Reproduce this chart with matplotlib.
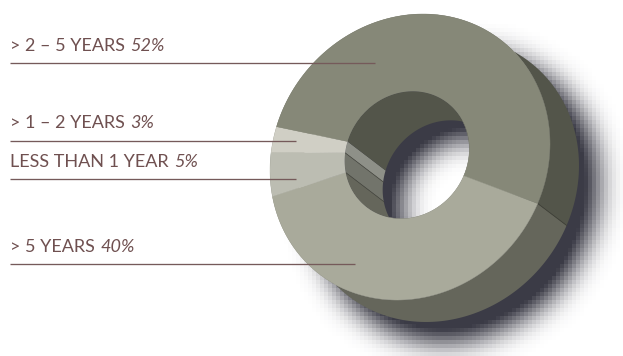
import numpy as np
import matplotlib
matplotlib.use('Agg')
import matplotlib.pyplot as plt
from matplotlib.patches import Polygon
from matplotlib.transforms import IdentityTransform, blended_transform_factory

# clockwise from the seam at lower right
categories = ['> 5 YEARS', 'LESS THAN 1 YEAR', '> 1 \u2013 2 YEARS', '> 2 \u2013 5 YEARS']
shares = [40, 5, 3, 52]
face_colors = ['#a9aa9b', '#bcbdb2', '#d0cfc5', '#868878']
outer_wall_colors = ['#65665b', '#65665b', '#65665b', '#53554a']
inner_wall_colors = ['#65665b', '#72746b', '#8e9088', '#53554a']

label_baselines = [252, 167, 128, 51]
leader_y = [264, 179, 141, 63]
leader_end = [355, 296, 296, 375]

text_color = '#6f5050'
line_color = '#755a5a'
shadow_color = (0.235, 0.235, 0.275)

START_ANGLE = 20.0
outer_center = np.array([410.0, 157.0])
inner_center = np.array([407.0, 155.0])
outer_cov = np.array([[140.0 ** 2, -1859.0], [-1859.0, 143.0 ** 2]])
inner_cov = outer_cov * (63.0 / 141.5) ** 2
wall_offset = np.array([29.0, 22.0])
hole_offset = np.array([38.0, 29.0])
shadow_offset = np.array([47.0, 40.0])
shadow_hole_offset = np.array([54.0, 46.0])


def arc(center, cov, a0, a1, n=120):
    # points on a tilted ellipse at polar angles a0..a1 (degrees, y down)
    t = np.radians(np.linspace(a0, a1, n))
    u = np.column_stack([np.cos(t), np.sin(t)])
    inv = np.linalg.inv(cov)
    r = 1.0 / np.sqrt(np.sum(u @ inv * u, axis=1))
    return center + u * r[:, None]


def inside(xx, yy, center, cov):
    inv = np.linalg.inv(cov)
    dx, dy = xx - center[0], yy - center[1]
    return inv[0, 0] * dx * dx + 2 * inv[0, 1] * dx * dy + inv[1, 1] * dy * dy <= 1


def box_blur(a, size):
    kernel = np.ones(size) / size
    a = np.apply_along_axis(lambda v: np.convolve(v, kernel, mode='same'), 0, a)
    return np.apply_along_axis(lambda v: np.convolve(v, kernel, mode='same'), 1, a)


fig = plt.figure(figsize=(6.23, 3.56), dpi=100, facecolor='white')
ax = fig.add_axes([0, 0, 1, 1])

# coarse blurred drop shadow
cell = 4
gx, gy = np.meshgrid(np.arange(cell / 2, 623 + cell, cell), np.arange(cell / 2, 356 + cell, cell))
ring = (inside(gx, gy, outer_center + shadow_offset, outer_cov)
        & ~inside(gx, gy, inner_center + shadow_hole_offset, inner_cov)).astype(float)
blurred = ring
for _ in range(3):
    blurred = box_blur(blurred, 7)
shadow = np.zeros(gx.shape + (4,))
shadow[..., :3] = shadow_color
shadow[..., 3] = np.clip(blurred * 1.3, 0, 1)
ax.imshow(shadow, extent=(0, gx.shape[1] * cell, gy.shape[0] * cell, 0),
          interpolation='nearest', aspect='auto', zorder=1)

edges = START_ANGLE + np.cumsum([0] + shares) * 3.6
hole_clip = Polygon(arc(inner_center, inner_cov, 0, 360, 240), transform=ax.transData)

for i, share in enumerate(shares):
    a0, a1 = edges[i], edges[i + 1]
    top_out = arc(outer_center, outer_cov, a0, a1)
    top_in = arc(inner_center, inner_cov, a0, a1)

    # outer wall
    ax.add_patch(Polygon(np.vstack([top_out, (top_out + wall_offset)[::-1]]),
                         fc=outer_wall_colors[i], ec='none', zorder=2))

    # top face
    ax.add_patch(Polygon(np.vstack([top_out, top_in[::-1]]),
                         fc=face_colors[i], ec=face_colors[i], lw=0.3, zorder=4))

    # wall inside the hole, only seen through the top opening
    wall = Polygon(np.vstack([top_in, (top_in + hole_offset)[::-1]]),
                   fc=inner_wall_colors[i], ec='none', zorder=5)
    ax.add_patch(wall)
    wall.set_clip_path(hole_clip)

    seam = top_in[0], top_in[0] + hole_offset
    if i in (1, 2):
        line, = ax.plot([seam[0][0], seam[1][0]], [seam[0][1], seam[1][1]],
                        color='#45463e', lw=0.5, zorder=6)
        line.set_clip_path(hole_clip)

# seam on the outer wall between the two large slices
p = arc(outer_center, outer_cov, edges[0], edges[0], 1)[0]
ax.plot([p[0], p[0] + wall_offset[0]], [p[1], p[1] + wall_offset[1]],
        color='#3f4037', lw=0.6, zorder=3)

ax.set_xlim(0, 623)
ax.set_ylim(356, 0)
ax.axis('off')

# leader lines and labels
fig.canvas.draw()
renderer = fig.canvas.get_renderer()
pct_transform = blended_transform_factory(IdentityTransform(), ax.transData)
for i, name in enumerate(categories):
    ax.plot([10, leader_end[i]], [leader_y[i], leader_y[i]], color=line_color, lw=0.95,
            solid_capstyle='butt', zorder=7)
    t = ax.text(10.5, label_baselines[i], name, family='Lato', fontsize=13,
                color=text_color, va='baseline', ha='left', zorder=8)
    box = t.get_window_extent(renderer)
    ax.text(box.x1 + 5, label_baselines[i], f'{shares[i]}%', family='Lato', style='italic',
            fontsize=13, color=text_color, va='baseline', ha='left', zorder=8,
            transform=pct_transform)

fig.savefig('out.png', dpi=100, facecolor='white')
